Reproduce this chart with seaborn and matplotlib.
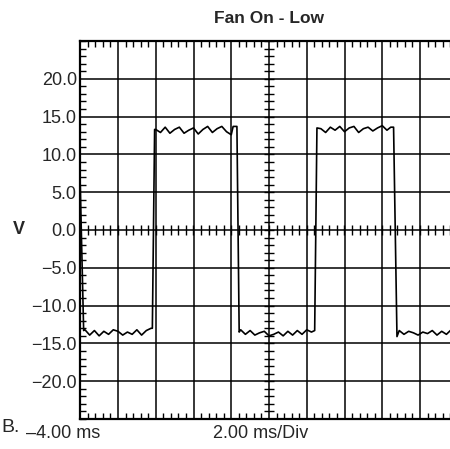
import numpy as np
import pandas as pd
import matplotlib
matplotlib.use("Agg")
import matplotlib.pyplot as plt
from matplotlib.ticker import MultipleLocator
import seaborn as sns

# ---------- DATA ----------
TITLE = "Fan On - Low"
Y_TICKS = [-20.0, -15.0, -10.0, -5.0, 0.0, 5.0, 10.0, 15.0, 20.0]
X_START_LABEL = "\u20134.00 ms"
X_SCALE_LABEL = "2.00 ms/Div"

# initial falling edge at the left border
edge0_t = [-4.00, -3.82]
edge0_v = [6.0, -13.3]

# low plateau 1
low1_t = [-3.75, -3.50, -3.25, -3.00, -2.75, -2.50, -2.25, -2.00,
          -1.75, -1.50, -1.25, -1.00, -0.75, -0.50, -0.25]
low1_v = [-13.2, -13.9, -13.3, -14.0, -13.4, -13.8, -13.2, -13.4,
          -13.9, -13.5, -13.8, -13.2, -13.9, -13.3, -13.0]

# rising edge 1 + high plateau 1
high1_t = [-0.18, -0.06, 0.00, 0.25, 0.50, 0.75, 1.00, 1.25, 1.50, 1.75,
           2.00, 2.25, 2.50, 2.75, 3.00, 3.25, 3.50, 3.75, 4.00, 4.10, 4.30]
high1_v = [-13.0, 13.3, 13.3, 12.9, 13.6, 12.8, 13.3, 13.6, 12.8, 13.2,
           13.5, 12.7, 13.3, 13.7, 12.9, 13.4, 13.7, 13.0, 12.6, 13.7, 13.7]

# falling edge 1 + low plateau 2
low2_t = [4.42, 4.50, 4.75, 5.00, 5.25, 5.50, 5.75, 6.00, 6.25,
          6.50, 6.75, 7.00, 7.25, 7.50, 7.75, 8.00, 8.25, 8.42]
low2_v = [-13.5, -13.2, -13.8, -13.3, -13.9, -13.6, -13.4, -14.0, -13.8,
          -13.5, -14.0, -13.4, -13.9, -13.3, -13.8, -13.2, -13.5, -13.3]

# rising edge 2 + high plateau 2
high2_t = [8.54, 8.75, 9.00, 9.25, 9.50, 9.75, 10.00, 10.25, 10.50,
           10.75, 11.00, 11.25, 11.50, 11.75, 12.00, 12.25, 12.45, 12.60]
high2_v = [13.5, 13.4, 12.9, 13.6, 13.2, 13.7, 13.0, 13.5, 13.7,
           12.9, 13.4, 13.6, 13.1, 13.5, 13.8, 13.2, 13.6, 13.6]

# falling edge 2 + low plateau 3
low3_t = [12.78, 12.90, 13.15, 13.40, 13.65, 13.90, 14.15, 14.40,
          14.65, 14.90, 15.15, 15.40, 15.65, 15.90, 16.00]
low3_v = [-14.1, -13.3, -13.8, -13.4, -13.6, -13.9, -13.5, -13.7,
          -13.3, -13.9, -13.4, -13.8, -13.2, -13.7, -13.4]

trace = pd.DataFrame({
    "t": edge0_t + low1_t + high1_t + low2_t + high2_t + low3_t,
    "v": edge0_v + low1_v + high1_v + low2_v + high2_v + low3_v,
})

# ---------- STYLE ----------
sns.set_style("ticks")
plt.rcParams["font.family"] = ["Liberation Sans", "DejaVu Sans"]

fig = plt.figure(figsize=(4.5, 4.49), dpi=100)
# axes run slightly past the right border, like the scanned screen
ax = fig.add_axes([80.25 / 450, 30 / 449, 377.5 / 450, 378 / 449])

sns.lineplot(data=trace, x="t", y="v", color="black", linewidth=1.2,
             estimator=None, sort=False, ax=ax, zorder=5)

ax.set_xlim(-4, 16)
ax.set_ylim(-25, 25)

# graticule
ax.set_xticks(np.arange(-4, 16.01, 2))
ax.set_yticks(Y_TICKS)
ax.set_xticklabels([])
ax.set_yticklabels([f"{v:.1f}".replace("-", "\u2212") for v in Y_TICKS],
                   fontsize=13)
ax.grid(True, color="black", linewidth=1.1)
ax.tick_params(which="major", length=0, pad=2.5)

ax.xaxis.set_minor_locator(MultipleLocator(0.4))
ax.yaxis.set_minor_locator(MultipleLocator(1))
ax.tick_params(which="minor", direction="in", length=4.5, width=1,
               top=True, bottom=True, left=True, right=True, color="black")
for sp in ax.spines.values():
    sp.set_color("black")
    sp.set_linewidth(1.6)

# centre cross with minor divisions
cx = np.arange(-4, 16.01, 0.4)
cy = np.arange(-25, 25.01, 1)
ax.plot(cx, np.zeros(len(cx)), linestyle="none", marker="|",
        markersize=7, color="black", mew=1)
ax.plot(np.full(len(cy), 6.0), cy, linestyle="none", marker="_",
        markersize=7, color="black", mew=1)

ax.set_xlabel("")
ax.set_ylabel("")
ax.set_title(TITLE, fontsize=12.5, fontweight="bold", pad=13)

# labels around the screen
fig.text(19 / 450, 1 - 229 / 449, "V", fontsize=13, fontweight="bold",
         ha="center", va="center")
fig.text(26 / 450, 1 - 434 / 449, X_START_LABEL, fontsize=13,
         ha="left", va="center")
fig.text(261 / 450, 1 - 434 / 449, X_SCALE_LABEL, fontsize=13,
         ha="center", va="center")
fig.text(1 / 450, 1 - 428 / 449, "B.", fontsize=14, ha="left", va="center")

fig.savefig("out.png", dpi=100)
